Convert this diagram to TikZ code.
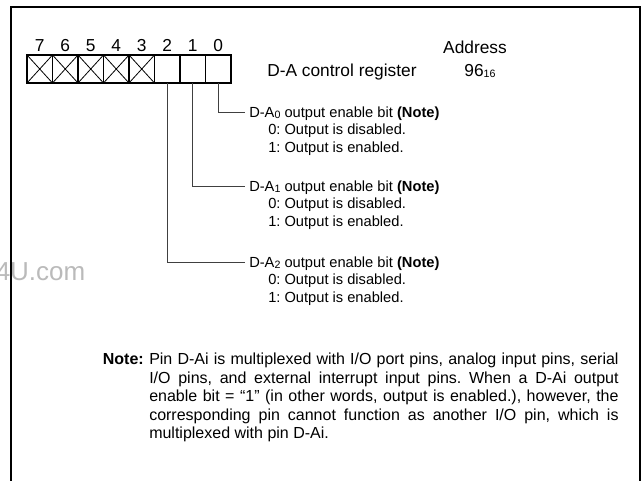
\documentclass[tikz,border=0pt]{standalone}
\usepackage{fontspec}
\setmainfont{Liberation Sans}
\frenchspacing
\newcommand{\fs}{\fontsize{13}{15}\selectfont}
\newcommand{\fd}{\fontsize{11}{13}\selectfont}
\newcommand{\fn}{\fontsize{12}{14}\selectfont}
\newcommand{\sbs}[1]{\raisebox{-0.6pt}{\fontsize{8}{8}\selectfont #1}}
\begin{document}
\begin{tikzpicture}[x=0.75pt,y=-0.75pt,
  frame/.style={line width=1.5pt},
  cell/.style={draw,line width=0.8pt,minimum width=19.125pt,minimum height=21pt,inner sep=0pt,outer sep=0pt},
  conn/.style={line width=0.6pt,black!75},
  txt/.style={font=\fs,inner sep=0pt,text height=9.3pt,text depth=0pt},
  dtxt/.style={font=\fd,inner sep=0pt,text height=7.9pt,text depth=0pt,anchor=west},
  ntxt/.style={font=\fn,inner sep=0pt,text height=8.6pt,text depth=0pt,anchor=west},
  wm/.style={font=\fontsize{19.5}{20}\selectfont,text=black!27,inner sep=0pt}]
\useasboundingbox (0,0) rectangle (642,480);
\clip (0,0) rectangle (642,480);
\node[wm,anchor=base west] (wm) at (-4.5,280) {4U.com};
\draw[frame] (11,500) -- (11,7) -- (640,7) -- (640,500);
% register cells
\foreach \i in {0,...,7}{
  \pgfmathtruncatemacro{\b}{7-\i}
  \node[cell] (b\b) at ({39.75+25.5*\i},69) {};
  \node[txt,anchor=center] (d\b) at ({39.75+25.5*\i},45) {\b};
}
\foreach \b in {3,...,7}{
  \draw[line width=0.6pt] (b\b.north west) -- (b\b.south east) (b\b.south west) -- (b\b.north east);
}
\node[txt,anchor=center] (addr) at (475,47) {Address};
\node[txt,anchor=west] (reg) at (267,70) {D-A control register};
\node[txt,anchor=center] (adv) at (480,70) {96\sbs{16}};
% bit descriptions
\node[dtxt] (t0) at (249,112) {D-A\sbs{0} output enable bit \textbf{(Note)}};
\node[dtxt] (t0a) at (268,129.5) {0: Output is disabled.};
\node[dtxt] (t0b) at (268,147) {1: Output is enabled.};
\node[dtxt] (t1) at (249,186) {D-A\sbs{1} output enable bit \textbf{(Note)}};
\node[dtxt] (t1a) at (268,203.5) {0: Output is disabled.};
\node[dtxt] (t1b) at (268,221) {1: Output is enabled.};
\node[dtxt] (t2) at (249,262) {D-A\sbs{2} output enable bit \textbf{(Note)}};
\node[dtxt] (t2a) at (268,279.5) {0: Output is disabled.};
\node[dtxt] (t2b) at (268,297) {1: Output is enabled.};
\coordinate (e0) at (245,112);
\coordinate (e1) at (245,186);
\coordinate (e2) at (245,262);
\draw[conn] (b0.south) |- (e0);
\draw[conn] (b1.south) |- (e1);
\draw[conn] (b2.south) |- (e2);
% note
\node[ntxt,anchor=east] (nl) at (144,359) {\textbf{Note:}};
\node[ntxt] (n1) at (149,359) {\makebox[352pt][s]{Pin D-Ai is multiplexed with I/O port pins, analog input pins, serial}};
\node[ntxt] (n2) at (149,377.5) {\makebox[352pt][s]{I/O pins, and external interrupt input pins. When a D-Ai output}};
\node[ntxt] (n3) at (149,396) {\makebox[352pt][s]{enable bit = “1” (in other words, output is enabled.), however, the}};
\node[ntxt] (n4) at (149,414.5) {\makebox[352pt][s]{corresponding pin cannot function as another I/O pin, which is}};
\node[ntxt] (n5) at (149,433) {multiplexed with pin D-Ai.};
\end{tikzpicture}
\end{document}
